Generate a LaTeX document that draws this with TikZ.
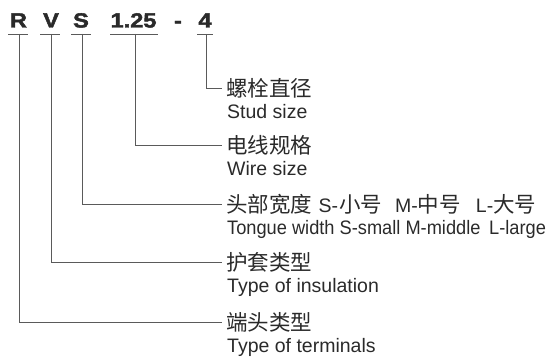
\documentclass[tikz,border=0pt]{standalone}
\usepackage{fontspec}
\setmainfont{Liberation Sans}
\newfontfamily\cjk{Noto Sans CJK SC}
\newfontfamily\heavy{Liberation Sans Bold}[FakeBold=2]
\newfontfamily\lat{Liberation Sans}
\definecolor{txt}{HTML}{2A2A2A}
\definecolor{ln}{HTML}{5A5A5A}
\newcommand{\la}[1]{{\lat\fontsize{19.5}{20}\selectfont #1}}
\begin{document}
\begin{tikzpicture}[x=1pt,y=-1pt,
  code/.style={font=\fontsize{20.5}{21}\selectfont\heavy, text=txt, inner sep=0pt, anchor=base},
  cn/.style={font=\fontsize{21.5}{22}\selectfont\cjk, text=txt, inner xsep=4pt, inner ysep=0pt, anchor=west},
  en/.style={font=\fontsize{19.5}{20}\selectfont, text=txt, inner sep=0pt, anchor=base west},
  uline/.style={draw=ln, line width=0.9pt},
  conn/.style={draw=ln, line width=0.9pt}]
\useasboundingbox (0,0) rectangle (549,361);
% code letters
\node[code] (cR) at (18.5,27.5) {\scalebox{1.15}[1]{R}};
\node[code] (cV) at (51,27.5) {\scalebox{1.15}[1]{V}};
\node[code] (cS) at (81,27.5) {\scalebox{1.15}[1]{S}};
\node[code] (cW) at (133.5,27.5) {\scalebox{1.15}[1]{1.25}};
\node[code] (cD) at (178,27.5) {\scalebox{1.15}[1]{-}};
\node[code] (cF) at (205,27.5) {\scalebox{1.15}[1]{4}};
% underlines
\draw[uline] (8,34) -- (28,34);
\draw[uline] (40,34) -- (60,34);
\draw[uline] (71,34) -- (91,34);
\draw[uline] (110,34) -- (158,34);
\draw[uline] (197,34) -- (213,34);
\coordinate (tR) at (19,34);
\coordinate (tV) at (51,34);
\coordinate (tS) at (82,34);
\coordinate (tW) at (135,34);
\coordinate (tF) at (206,34);
% labels
\node[cn] (nF) at (222,88) {螺栓直径};
\node[en] (eF) at (227,118) {Stud size};
\node[cn] (nW) at (222,145) {电线规格};
\node[en] (eW) at (227,175) {Wire size};
\node[cn] (nS) at (222,204) {头部宽度\hspace{0.3em}\la{S-}\hspace{0.05em}小号\hspace{0.6em}\la{M-}中号\hspace{0.7em}\la{L-}大号};
\node[en] (eS) at (227,234) {\scalebox{0.935}[1]{Tongue width S-small M-middle\hspace{0.2em} L-large}};
\node[cn] (nV) at (222,262) {护套类型};
\node[en] (eV) at (227,292) {Type of insulation};
\node[cn] (nR) at (222,322) {端头类型};
\node[en] (eR) at (227,352) {Type of terminals};
% connectors
\draw[conn] (tF) |- (nF.west);
\draw[conn] (tW) |- (nW.west);
\draw[conn] (tS) |- (nS.west);
\draw[conn] (tV) |- (nV.west);
\draw[conn] (tR) |- (nR.west);
\end{tikzpicture}
\end{document}
